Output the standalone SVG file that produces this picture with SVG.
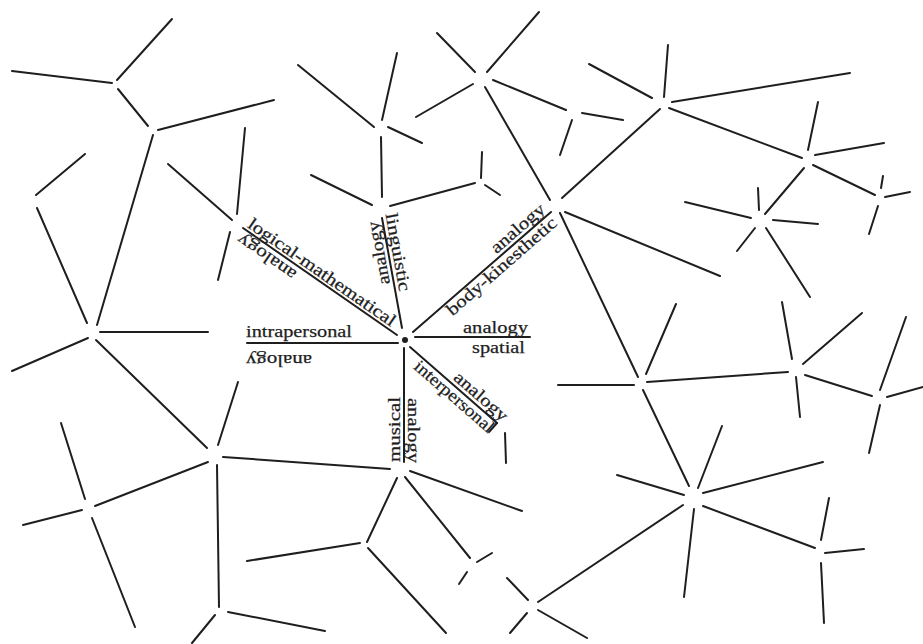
<svg xmlns="http://www.w3.org/2000/svg" width="923" height="644" viewBox="0 0 923 644">
<style>
line{stroke:#1e1e1e;stroke-width:2;stroke-linecap:round}
.lbl{font-family:"Liberation Serif","Times New Roman",serif;font-size:17.5px;fill:#1e1e1e;stroke:#1e1e1e;stroke-width:0.25}
</style>
<rect width="923" height="644" fill="#fff"/>
<g id="connectors">
<line x1="118" y1="89" x2="148" y2="126"/>
<line x1="153" y1="135" x2="97" y2="325"/>
<line x1="37" y1="208" x2="87" y2="323"/>
<line x1="96" y1="340" x2="207" y2="448"/>
<line x1="223" y1="457" x2="390" y2="469"/>
<line x1="217" y1="465" x2="219" y2="607"/>
<line x1="208" y1="462" x2="95" y2="506"/>
<line x1="397" y1="478" x2="367" y2="542"/>
<line x1="405" y1="477" x2="470" y2="558"/>
<line x1="538" y1="602" x2="683" y2="505"/>
<line x1="703" y1="506" x2="815" y2="548"/>
<line x1="643" y1="390" x2="689" y2="486"/>
<line x1="647" y1="382" x2="788" y2="372"/>
<line x1="805" y1="375" x2="872" y2="396"/>
<line x1="560" y1="213" x2="638" y2="377"/>
<line x1="485" y1="87" x2="550" y2="200"/>
<line x1="493" y1="80" x2="566" y2="110"/>
<line x1="660" y1="109" x2="562" y2="198"/>
<line x1="669" y1="108" x2="802" y2="158"/>
<line x1="813" y1="165" x2="875" y2="195"/>
<line x1="804" y1="168" x2="765" y2="214"/>
<line x1="381" y1="137" x2="382" y2="197"/>
<line x1="390" y1="206" x2="475" y2="183"/>
<line x1="243" y1="228" x2="397" y2="335"/>
<line x1="382" y1="218" x2="402" y2="328"/>
<line x1="413" y1="332" x2="551" y2="212"/>
<line x1="404" y1="348" x2="404" y2="462"/>
<line x1="247" y1="343" x2="398" y2="343"/>
<line x1="415" y1="337" x2="530" y2="337"/>
<line x1="410" y1="347" x2="497" y2="423"/>
<line x1="497" y1="423" x2="489" y2="432"/>
</g>
<g id="n-center">
<circle cx="405" cy="340" r="3" fill="#1e1e1e"/>
<text class="lbl" transform="translate(246.4,226.7) rotate(34.8)" textLength="176" lengthAdjust="spacingAndGlyphs">logical-mathematical</text>
<text class="lbl" transform="translate(297.6,272.1) rotate(214.8)" textLength="68" lengthAdjust="spacingAndGlyphs">analogy</text>
<text class="lbl" transform="translate(385.4,214.3) rotate(79.7)" textLength="79" lengthAdjust="spacingAndGlyphs">linguistic</text>
<text class="lbl" transform="translate(389.9,283.6) rotate(259.7)" textLength="64" lengthAdjust="spacingAndGlyphs">analogy</text>
<text class="lbl" transform="translate(452.4,316.4) rotate(-41)" textLength="140" lengthAdjust="spacingAndGlyphs">body-kinesthetic</text>
<text class="lbl" transform="translate(496.5,254.2) rotate(-41)" textLength="66" lengthAdjust="spacingAndGlyphs">analogy</text>
<text class="lbl" transform="translate(412.8,368) rotate(41.1)" textLength="100" lengthAdjust="spacingAndGlyphs">interpersonal</text>
<text class="lbl" transform="translate(452.5,378.9) rotate(41.1)" textLength="66" lengthAdjust="spacingAndGlyphs">analogy</text>
<text class="lbl" transform="translate(400,462) rotate(-90)" textLength="65" lengthAdjust="spacingAndGlyphs">musical</text>
<text class="lbl" transform="translate(408,398) rotate(90)" textLength="65" lengthAdjust="spacingAndGlyphs">analogy</text>
<text class="lbl" x="246" y="337" textLength="106" lengthAdjust="spacingAndGlyphs">intrapersonal</text>
<text class="lbl" transform="translate(312,355) rotate(180)" textLength="66" lengthAdjust="spacingAndGlyphs">analogy</text>
<text class="lbl" x="463" y="332.5" textLength="65" lengthAdjust="spacingAndGlyphs">analogy</text>
<text class="lbl" x="472" y="353" textLength="53" lengthAdjust="spacingAndGlyphs">spatial</text>
</g>
<g id="n-a"><line x1="12" y1="71" x2="112" y2="83"/><line x1="117" y1="80" x2="172" y2="19"/></g>
<g id="n-b"><line x1="158" y1="130" x2="274" y2="100"/></g>
<g id="n-h"><line x1="36" y1="195" x2="85" y2="154"/></g>
<g id="n-logical"><line x1="168" y1="164" x2="232" y2="220"/><line x1="245" y1="128" x2="237" y2="214"/><line x1="218" y1="280" x2="230" y2="232"/></g>
<g id="n-d"><line x1="100" y1="332" x2="208" y2="332"/><line x1="12" y1="371" x2="88" y2="338"/></g>
<g id="n-e"><line x1="238" y1="382" x2="218" y2="445"/></g>
<g id="n-g"><line x1="61" y1="423" x2="85" y2="499"/><line x1="82" y1="510" x2="23" y2="525"/><line x1="92" y1="518" x2="135" y2="627"/></g>
<g id="n-f"><line x1="228" y1="612" x2="325" y2="631"/><line x1="215" y1="615" x2="192" y2="643"/></g>
<g id="n-musical"><line x1="410" y1="471" x2="522" y2="511"/></g>
<g id="n-n"><line x1="360" y1="543" x2="247" y2="561"/><line x1="368" y1="548" x2="446" y2="633"/></g>
<g id="n-o"><line x1="477" y1="562" x2="492" y2="553"/><line x1="467" y1="572" x2="459" y2="584"/></g>
<g id="n-i"><line x1="505" y1="433" x2="506" y2="463"/></g>
<g id="n-p"><line x1="507" y1="578" x2="528" y2="600"/><line x1="538" y1="610" x2="587" y2="638"/><line x1="527" y1="613" x2="510" y2="633"/></g>
<g id="n-q"><line x1="722" y1="426" x2="698" y2="488"/><line x1="617" y1="475" x2="684" y2="495"/><line x1="703" y1="493" x2="823" y2="462"/><line x1="694" y1="509" x2="684" y2="597"/></g>
<g id="n-s"><line x1="829" y1="498" x2="821" y2="540"/><line x1="825" y1="553" x2="864" y2="549"/><line x1="821" y1="563" x2="824" y2="623"/></g>
<g id="n-r"><line x1="558" y1="385" x2="634" y2="385"/><line x1="646" y1="374" x2="676" y2="304"/></g>
<g id="n-v"><line x1="792" y1="359" x2="782" y2="302"/><line x1="803" y1="364" x2="862" y2="313"/><line x1="796" y1="377" x2="800" y2="417"/></g>
<g id="n-w"><line x1="880" y1="390" x2="906" y2="317"/><line x1="887" y1="397" x2="923" y2="387"/><line x1="880" y1="405" x2="869" y2="453"/></g>
<g id="n-body"><line x1="565" y1="212" x2="720" y2="276"/></g>
<g id="n-u"><line x1="437" y1="33" x2="475" y2="72"/><line x1="487" y1="72" x2="539" y2="12"/><line x1="416" y1="117" x2="473" y2="84"/></g>
<g id="n-z"><line x1="582" y1="113" x2="623" y2="120"/><line x1="572" y1="120" x2="560" y2="155"/></g>
<g id="n-y"><line x1="589" y1="64" x2="652" y2="98"/><line x1="668" y1="45" x2="664" y2="97"/><line x1="672" y1="102" x2="850" y2="73"/></g>
<g id="n-aa"><line x1="818" y1="102" x2="808" y2="150"/><line x1="815" y1="155" x2="884" y2="143"/></g>
<g id="n-ab"><line x1="883" y1="176" x2="881" y2="188"/><line x1="885" y1="197" x2="910" y2="192"/><line x1="878" y1="206" x2="869" y2="234"/></g>
<g id="n-x"><line x1="685" y1="202" x2="751" y2="218"/><line x1="758" y1="188" x2="759" y2="210"/><line x1="773" y1="220" x2="818" y2="224"/><line x1="755" y1="228" x2="737" y2="251"/><line x1="766" y1="228" x2="810" y2="297"/></g>
<g id="n-ac"><line x1="298" y1="65" x2="374" y2="127"/><line x1="397" y1="53" x2="382" y2="120"/><line x1="388" y1="127" x2="422" y2="143"/></g>
<g id="n-linguistic"><line x1="311" y1="175" x2="372" y2="205"/></g>
<g id="n-ae"><line x1="482" y1="152" x2="481" y2="178"/><line x1="485" y1="185" x2="500" y2="195"/></g>
</svg>
